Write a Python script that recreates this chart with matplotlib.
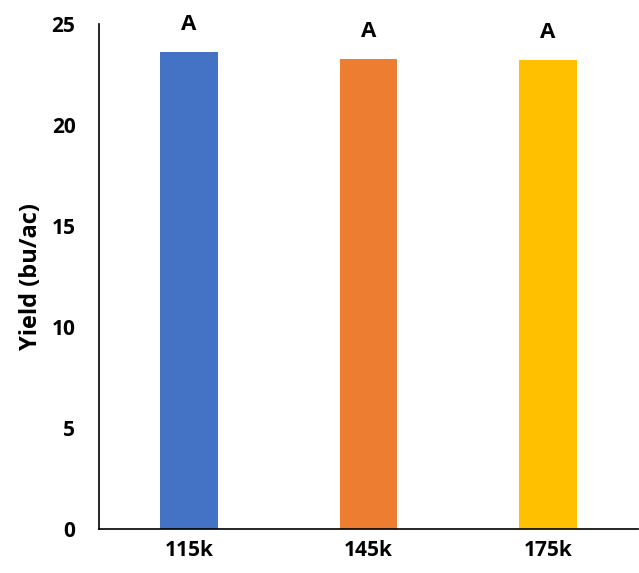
import numpy as np
import matplotlib.pyplot as plt

categories = ['115k', '145k', '175k']
yields = [23.62, 23.27, 23.22]
letters = ['A', 'A', 'A']
colors = ['#4472C4', '#ED7D31', '#FFC000']

plt.rcParams['font.family'] = ['Open Sans', 'DejaVu Sans']

fig = plt.figure(figsize=(6.39, 5.73), dpi=100)
ax = fig.add_axes([0.155, 0.077, 0.843, 0.881])

x = np.arange(len(categories))
bars = ax.bar(x, yields, width=0.32, color=colors)
for xi, yi, lab in zip(x, yields, letters):
    ax.text(xi, yi + 0.85, lab, ha='center', va='bottom', fontsize=16, fontweight='bold')

ax.set_xlim(-0.5, 2.5)
ax.set_ylim(0, 25)
ax.set_yticks([0, 5, 10, 15, 20, 25])
ax.set_xticks(x)
ax.set_xticklabels(categories)
ax.tick_params(length=0, labelsize=15)
ax.tick_params(axis='x', pad=8)
ax.tick_params(axis='y', pad=17)
for lab in ax.get_xticklabels() + ax.get_yticklabels():
    lab.set_fontweight('bold')
ax.set_ylabel('Yield (bu/ac)', fontsize=17, fontweight='bold', labelpad=6)

ax.spines['top'].set_visible(False)
ax.spines['right'].set_visible(False)
ax.spines['left'].set_linewidth(1.2)
ax.spines['bottom'].set_linewidth(1.2)

fig.savefig('out.png', dpi=100)
